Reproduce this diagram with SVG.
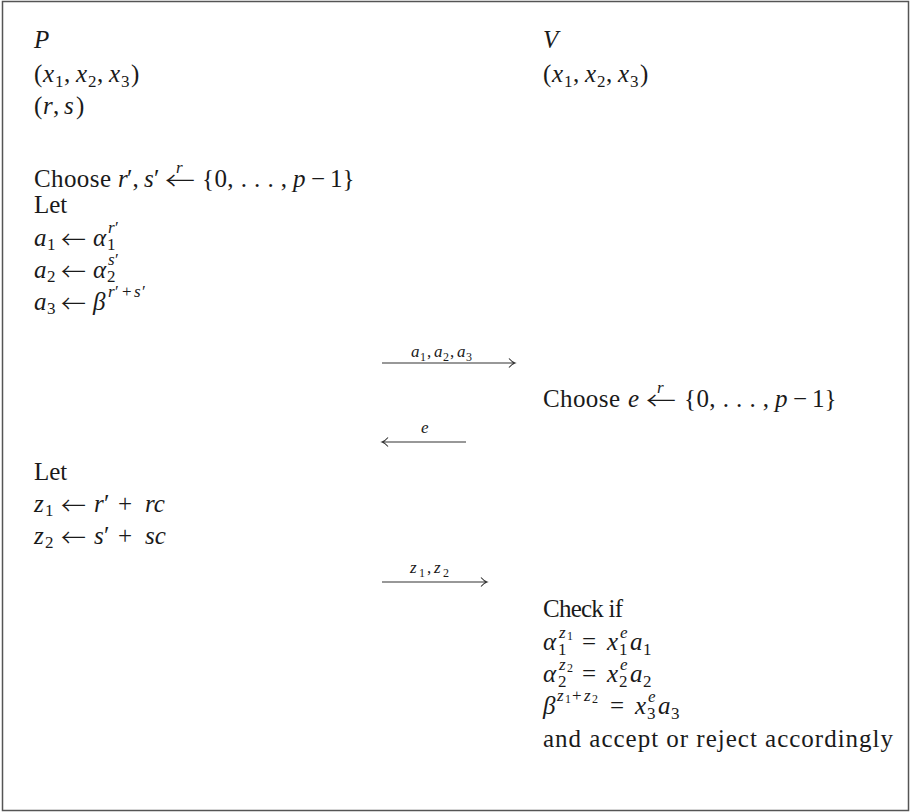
<svg xmlns="http://www.w3.org/2000/svg" width="910" height="812" viewBox="0 0 910 812">
<style>
.t{font-family:"Liberation Serif","Times New Roman","DejaVu Serif",serif;font-size:25px;fill:#1a1a1a}
.i{font-style:italic}
.s{font-size:17px}
.ss{font-size:12px}
.ar{font-family:"Noto Sans CJK JP","Noto Sans CJK SC","DejaVu Sans",sans-serif;font-style:normal;font-weight:300}
.ln{stroke:#333;stroke-width:1.1;fill:none}
</style>
<rect x="2.5" y="1.5" width="906" height="809" fill="#fff" stroke="#555" stroke-width="1.5"/>

<g id="prover-init">
<text class="t i" x="34" y="48">P</text>
<text class="t" y="82"><tspan x="34">(</tspan><tspan class="i" x="43">x</tspan><tspan class="s" x="55" y="87">1</tspan><tspan x="64" y="82">,</tspan><tspan class="i" x="76">x</tspan><tspan class="s" x="88" y="87">2</tspan><tspan x="97" y="82">,</tspan><tspan class="i" x="109">x</tspan><tspan class="s" x="121" y="87">3</tspan><tspan x="131" y="82">)</tspan></text>
<text class="t" y="114"><tspan x="34">(</tspan><tspan class="i" x="43">r</tspan><tspan x="53">,</tspan><tspan class="i" x="64">s</tspan><tspan x="76">)</tspan></text>
</g>

<g id="prover-commit">
<text class="t" y="187"><tspan x="34" textLength="77">Choose</tspan><tspan class="i" x="118">r</tspan><tspan x="127">′,</tspan><tspan class="i" x="144">s</tspan><tspan x="154">′</tspan><tspan class="ar" x="165" y="190" textLength="30" lengthAdjust="spacingAndGlyphs">←</tspan><tspan x="202" y="187" textLength="85">{0, . . . ,</tspan><tspan class="i" x="293">p</tspan><tspan x="311">−</tspan><tspan x="330">1}</tspan></text>
<text class="t i s" x="176" y="173">r</text>
<text class="t" x="34" y="213">Let</text>
<text class="t" y="246"><tspan class="i" x="34">a</tspan><tspan class="s" x="47" y="250">1</tspan><tspan class="ar" x="61" y="249">←</tspan><tspan class="i" x="93" y="246">α</tspan><tspan class="s" x="107" y="250">1</tspan><tspan class="s i" x="108" y="233">r</tspan><tspan class="s" x="115">′</tspan></text>
<text class="t" y="278"><tspan class="i" x="34">a</tspan><tspan class="s" x="47" y="282">2</tspan><tspan class="ar" x="61" y="281">←</tspan><tspan class="i" x="93" y="278">α</tspan><tspan class="s" x="107" y="282">2</tspan><tspan class="s i" x="108" y="265">s</tspan><tspan class="s" x="115">′</tspan></text>
<text class="t" y="310"><tspan class="i" x="34">a</tspan><tspan class="s" x="47" y="314">3</tspan><tspan class="ar" x="61" y="313">←</tspan><tspan class="i" x="93" y="310">β</tspan><tspan class="s i" x="108" y="297">r</tspan><tspan class="s" x="115">′</tspan><tspan class="s" x="122">+</tspan><tspan class="s i" x="134">s</tspan><tspan class="s" x="142">′</tspan></text>
</g>

<g id="verifier-init">
<text class="t i" x="543" y="48">V</text>
<text class="t" y="82"><tspan x="543">(</tspan><tspan class="i" x="552">x</tspan><tspan class="s" x="564" y="87">1</tspan><tspan x="573" y="82">,</tspan><tspan class="i" x="585">x</tspan><tspan class="s" x="597" y="87">2</tspan><tspan x="606" y="82">,</tspan><tspan class="i" x="618">x</tspan><tspan class="s" x="630" y="87">3</tspan><tspan x="640" y="82">)</tspan></text>
</g>

<g id="verifier-challenge">
<text class="t" y="407"><tspan x="543" textLength="77">Choose</tspan><tspan class="i" x="628">e</tspan><tspan class="ar" x="646" y="410" textLength="30" lengthAdjust="spacingAndGlyphs">←</tspan><tspan x="684" y="407" textLength="85">{0, . . . ,</tspan><tspan class="i" x="775">p</tspan><tspan x="793">−</tspan><tspan x="812">1}</tspan></text>
<text class="t i s" x="657" y="393">r</text>
</g>

<g id="prover-response">
<text class="t" x="34" y="480">Let</text>
<text class="t" y="512"><tspan class="i" x="34">z</tspan><tspan class="s" x="45" y="516">1</tspan><tspan class="ar" x="61" y="515">←</tspan><tspan class="i" x="94" y="512">r</tspan><tspan x="104">′</tspan><tspan x="118">+</tspan><tspan class="i" x="145">rc</tspan></text>
<text class="t" y="544"><tspan class="i" x="34">z</tspan><tspan class="s" x="45" y="548">2</tspan><tspan class="ar" x="61" y="547">←</tspan><tspan class="i" x="94" y="544">s</tspan><tspan x="104">′</tspan><tspan x="118">+</tspan><tspan class="i" x="145">sc</tspan></text>
</g>

<g id="verifier-check">
<text class="t" x="543" y="617" textLength="80">Check if</text>
<text class="t" y="650"><tspan class="i" x="543">α</tspan><tspan class="s" x="558" y="655">1</tspan><tspan class="s i" x="559" y="638">z</tspan><tspan class="ss" x="567" y="640">1</tspan><tspan x="582" y="650">=</tspan><tspan class="i" x="607">x</tspan><tspan class="s" x="619" y="655">1</tspan><tspan class="s i" x="620" y="638">e</tspan><tspan class="i" x="630" y="650">a</tspan><tspan class="s" x="643" y="655">1</tspan></text>
<text class="t" y="682"><tspan class="i" x="543">α</tspan><tspan class="s" x="558" y="687">2</tspan><tspan class="s i" x="559" y="670">z</tspan><tspan class="ss" x="567" y="672">2</tspan><tspan x="582" y="682">=</tspan><tspan class="i" x="607">x</tspan><tspan class="s" x="619" y="687">2</tspan><tspan class="s i" x="620" y="670">e</tspan><tspan class="i" x="630" y="682">a</tspan><tspan class="s" x="643" y="687">2</tspan></text>
<text class="t" y="714"><tspan class="i" x="543">β</tspan><tspan class="s i" x="557" y="701">z</tspan><tspan class="ss" x="565" y="703">1</tspan><tspan class="s" x="572" y="701">+</tspan><tspan class="s i" x="584">z</tspan><tspan class="ss" x="592" y="703">2</tspan><tspan x="610" y="714">=</tspan><tspan class="i" x="635">x</tspan><tspan class="s" x="647" y="719">3</tspan><tspan class="s i" x="648" y="702">e</tspan><tspan class="i" x="658" y="714">a</tspan><tspan class="s" x="671" y="719">3</tspan></text>
<text class="t" x="543" y="747" textLength="350">and accept or reject accordingly</text>
</g>

<g id="connectors">
<path class="ln" d="M382,363 H515 M509,358.5 Q512,362 515,363 Q512,364 509,367.5"/>
<text class="t s" y="357"><tspan class="i" x="411">a</tspan><tspan class="ss" x="420" y="361">1</tspan><tspan x="427" y="357">,</tspan><tspan class="i" x="434">a</tspan><tspan class="ss" x="443" y="361">2</tspan><tspan x="450" y="357">,</tspan><tspan class="i" x="457">a</tspan><tspan class="ss" x="466" y="361">3</tspan></text>
<path class="ln" d="M382,442 H466 M388,437.5 Q385,441 382,442 Q385,443 388,446.5"/>
<text class="t s i" x="421" y="433">e</text>
<path class="ln" d="M382,582 H487 M481,577.5 Q484,581 487,582 Q484,583 481,586.5"/>
<text class="t s" y="573"><tspan class="i" x="410">z</tspan><tspan class="ss" x="419" y="577">1</tspan><tspan x="427" y="573">,</tspan><tspan class="i" x="434">z</tspan><tspan class="ss" x="443" y="577">2</tspan></text>
</g>
</svg>
